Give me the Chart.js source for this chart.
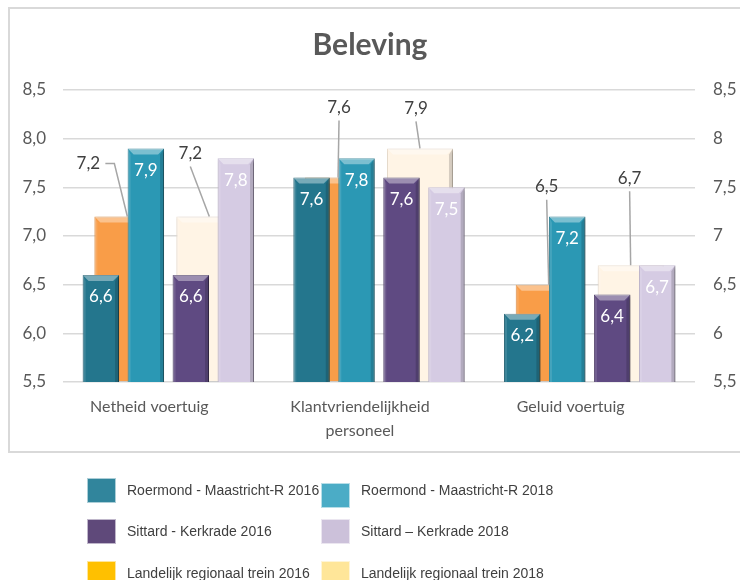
<!DOCTYPE html>
<html>
<head>
<meta charset="utf-8">
<script src="https://cdn.jsdelivr.net/npm/chart.js@4.4.1/dist/chart.umd.min.js"></script>
<style>
  html, body { margin: 0; padding: 0; background: #fff; }
  #page { position: relative; width: 740px; height: 580px; overflow: hidden; }
  #frame { position: absolute; left: 8px; top: 7px; width: 780px; height: 446px;
           border: 2px solid #d9d9d9; box-sizing: border-box; }
  canvas { position: absolute; left: 0; top: 0; }
  #legend { position: absolute; left: 0; top: 0; width: 740px; height: 580px;
            font-family: 'Liberation Sans', Arial, sans-serif; font-size: 14px; color: #404040; }
  .lg-swatch { position: absolute; width: 29px; height: 25px; box-sizing: border-box;
               border: 1px solid rgba(255,255,255,0.6); }
  .lg-text { position: absolute; white-space: nowrap; line-height: 20px; }
</style>
</head>
<body>
<div id="page">
  <div id="frame"></div>
  <canvas id="back" width="740" height="452"></canvas>
  <canvas id="front" width="740" height="452"></canvas>
  <div id="legend"></div>
</div>
<script>
// ── Data ─────────────────────────────────────────────────────
const categories    = ['Netheid voertuig', ['Klantvriendelijkheid', 'personeel'], 'Geluid voertuig'];
const roermond2016  = [6.6, 7.6, 6.2];
const roermond2018  = [7.9, 7.8, 7.2];
const sittard2016   = [6.6, 7.6, 6.4];
const sittard2018   = [7.8, 7.5, 6.7];
const landelijk2016 = [7.2, 7.6, 6.5];
const landelijk2018 = [7.2, 7.9, 6.7];
const yTicks        = [5.5, 6.0, 6.5, 7.0, 7.5, 8.0, 8.5];

// ── Style ────────────────────────────────────────────────────
const GREY = '#595959';
// callout offsets of the 'Landelijk' labels, relative to the bar top
const calloutOffsets = {
  l2016: [[-39, -53], [1, -70], [-2, -98]],
  l2018: [[-19, -63], [-4, -40], [-1, -87]],
};

const fmt1 = v => v.toFixed(1).replace('.', ',');

// bevelled bars + soft shadow, drawn per dataset
const bevelPlugin = {
  id: 'bevel',
  beforeDatasetDraw(chart) {
    const c = chart.ctx;
    c.save();
    c.shadowColor = 'rgba(0,0,0,0.35)';
    c.shadowBlur = 3;
    c.shadowOffsetX = 1.5;
    c.shadowOffsetY = 1.5;
  },
  afterDatasetDraw(chart, args) {
    const c = chart.ctx;
    c.restore();
    const b = 6;
    args.meta.data.forEach(bar => {
      const { x, y, base, width } = bar.getProps(['x', 'y', 'base', 'width'], true);
      const l = x - width / 2, r = x + width / 2;
      const poly = (pts, fill) => {
        c.beginPath();
        c.moveTo(pts[0][0], pts[0][1]);
        pts.slice(1).forEach(p => c.lineTo(p[0], p[1]));
        c.closePath();
        c.fillStyle = fill;
        c.fill();
      };
      poly([[l, y], [r, y], [r - b, y + b], [l + b, y + b]], 'rgba(255,255,255,0.38)');
      poly([[l, y], [l + 3, y + b], [l + 3, base], [l, base]], 'rgba(255,255,255,0.12)');
      poly([[r, y], [r - 4, y + b], [r - 4, base], [r, base]], 'rgba(0,0,0,0.16)');
    });
  }
};

let backChart = null;

// value labels: inside for the route series, callouts for 'Landelijk'
const labelPlugin = {
  id: 'valueLabels',
  afterDatasetsDraw(chart) {
    const c = chart.ctx;
    c.save();
    c.font = '17px Lato, sans-serif';
    c.textAlign = 'center';
    c.textBaseline = 'middle';
    chart.data.datasets.forEach((ds, di) => {
      chart.getDatasetMeta(di).data.forEach((bar, i) => {
        const { x, y } = bar.getProps(['x', 'y'], true);
        c.fillStyle = '#ffffff';
        c.fillText(fmt1(ds.data[i]), x, y + 22);
      });
    });
    if (backChart) {
      backChart.data.datasets.forEach((ds, di) => {
        backChart.getDatasetMeta(di).data.forEach((bar, i) => {
          const { x, y } = bar.getProps(['x', 'y'], true);
          const [dx, dy] = calloutOffsets[ds.callout][i];
          const lx = x + dx, ly = y + dy;
          c.strokeStyle = '#a6a6a6';
          c.lineWidth = 1.5;
          c.beginPath();
          if (Math.abs(dx) > 30) {
            c.moveTo(lx + 17, ly);
            c.lineTo(lx + 26, ly);
          } else {
            c.moveTo(lx, ly + 13);
          }
          c.lineTo(x, y);
          c.stroke();
          c.fillStyle = '#404040';
          c.fillText(fmt1(ds.data[i]), lx, ly);
        });
      });
    }
    c.restore();
  }
};

const frontSets = [
  { label: 'Roermond - Maastricht-R 2016', data: roermond2016,
    backgroundColor: '#24768d', borderColor: '#1c5f72' },
  { label: 'Roermond - Maastricht-R 2018', data: roermond2018,
    backgroundColor: '#2b98b4', borderColor: '#237c93' },
  { label: 'Sittard - Kerkrade 2016', data: sittard2016,
    backgroundColor: '#5f4a82', borderColor: '#4a3966' },
  { label: 'Sittard \u2013 Kerkrade 2018', data: sittard2018,
    backgroundColor: '#d5cbe3', borderColor: '#b7abc8' },
].map(d => ({ ...d, base: yTicks[0], borderWidth: 1, categoryPercentage: 0.854, barPercentage: 0.81 }));

const backSets = [
  { label: 'Landelijk regionaal trein 2016', data: landelijk2016, callout: 'l2016',
    backgroundColor: '#f99d48', borderColor: '#e08a3a' },
  { label: 'Landelijk regionaal trein 2018', data: landelijk2018, callout: 'l2018',
    backgroundColor: '#fff4e5', borderColor: '#eadccb' },
].map(d => ({ ...d, base: yTicks[0], borderWidth: 1, categoryPercentage: 0.778, barPercentage: 0.805 }));

// legend swatch colours as in the reference legend
const legendRows = [
  [['Roermond - Maastricht-R 2016', '#31859c'], ['Roermond - Maastricht-R 2018', '#4bacc6']],
  [['Sittard - Kerkrade 2016', '#5f497a'],      ['Sittard \u2013 Kerkrade 2018', '#ccc1da']],
  [['Landelijk regionaal trein 2016', '#ffc000'], ['Landelijk regionaal trein 2018', '#ffe699']],
];

// both canvases share one layout; only the back one paints axes and grid
function buildConfig(datasets, isFront) {
  const ink = isFront ? 'rgba(0,0,0,0)' : GREY;
  return {
    type: 'bar',
    data: { labels: categories, datasets },
    plugins: isFront ? [bevelPlugin, labelPlugin] : [bevelPlugin],
    options: {
      responsive: false,
      animation: false,
      layout: { padding: 0 },
      plugins: {
        legend: { display: false },
        tooltip: { enabled: false },
        title: {
          display: true,
          text: 'Beleving',
          color: ink,
          font: { family: 'Lato', size: 30, weight: 'bold', lineHeight: 1.2 },
          padding: { top: 27, bottom: 27 },
        },
      },
      scales: {
        x: {
          offset: true,
          grid: { display: false },
          border: { display: false },
          ticks: { color: ink, font: { family: 'Lato', size: 16, lineHeight: 1.5 },
                   padding: 5, labelOffset: -19, maxRotation: 0, autoSkip: false },
          afterFit: s => { s.height = 70; },
        },
        y: {
          position: 'left',
          min: yTicks[0], max: yTicks[yTicks.length - 1],
          grid: { display: !isFront, color: '#d9d9d9', lineWidth: 1.5, drawTicks: false },
          border: { display: false },
          afterBuildTicks: s => { s.ticks = yTicks.map(v => ({ value: v })); },
          ticks: { color: ink, font: { family: 'Lato', size: 17 }, padding: 17,
                   callback: v => fmt1(v) },
          afterFit: s => { s.width = 63; },
        },
        y2: {
          position: 'right',
          min: yTicks[0], max: yTicks[yTicks.length - 1],
          grid: { display: false, drawTicks: false },
          border: { display: false },
          afterBuildTicks: s => { s.ticks = yTicks.map(v => ({ value: v })); },
          ticks: { color: ink, font: { family: 'Lato', size: 17 }, padding: 18,
                   callback: v => String(v).replace('.', ',') },
          afterFit: s => { s.width = 45; },
        },
      },
    },
  };
}

backChart = new Chart(document.getElementById('back'), buildConfig(backSets, false));
new Chart(document.getElementById('front'), buildConfig(frontSets, true));

// ── HTML legend ──────────────────────────────────────────────
const legendEl = document.getElementById('legend');
const colX = [87, 321];
const rowY = [478, 519, 561];
legendRows.forEach((row, ri) => {
  row.forEach(([name, color], ci) => {
    const sw = document.createElement('div');
    sw.className = 'lg-swatch';
    sw.style.left = colX[ci] + 'px';
    sw.style.top = (rowY[ri] + (ri === 0 && ci === 1 ? 5 : 0)) + 'px';
    sw.style.background = color;
    legendEl.appendChild(sw);
    const tx = document.createElement('div');
    tx.className = 'lg-text';
    tx.style.left = (colX[ci] + 40) + 'px';
    tx.style.top = (rowY[ri] + 2) + 'px';
    tx.textContent = name;
    legendEl.appendChild(tx);
  });
});
</script>
</body>
</html>
